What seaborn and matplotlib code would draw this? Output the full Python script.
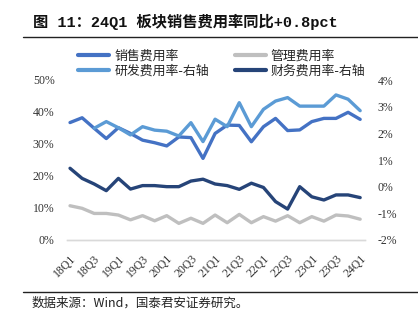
import numpy as np
import pandas as pd
import matplotlib
matplotlib.use("Agg")
import matplotlib.pyplot as plt
import seaborn as sns
from matplotlib.lines import Line2D

sns.set_theme(style="white")
plt.rcParams['font.family'] = ['Liberation Serif', 'Noto Sans CJK SC', 'DejaVu Sans']
plt.rcParams['axes.unicode_minus'] = False

quarters = ["18Q1","18Q2","18Q3","18Q4","19Q1","19Q2","19Q3","19Q4",
            "20Q1","20Q2","20Q3","20Q4","21Q1","21Q2","21Q3","21Q4",
            "22Q1","22Q2","22Q3","22Q4","23Q1","23Q2","23Q3","23Q4","24Q1"]
sales = [36.7, 38.2, 34.9, 31.7, 35.1, 33.3, 31.2, 30.4, 29.4, 32.2, 32.0, 25.5,
         33.3, 35.9, 35.8, 30.7, 35.4, 38.0, 34.2, 34.4, 37.0, 38.0, 38.0, 39.9, 37.7]
mgmt = [10.7, 9.9, 8.3, 8.3, 7.8, 6.3, 7.6, 6.0, 7.6, 5.2, 6.8, 5.2,
        7.8, 5.4, 8.0, 5.4, 7.3, 5.9, 7.6, 5.4, 7.3, 5.9, 7.8, 7.5, 6.5]
rnd = [np.nan, np.nan, 2.19, 2.44, 2.21, 1.94, 2.25, 2.12, 2.08, 1.90, 2.40, 1.69,
       2.53, 2.25, 3.15, 2.25, 2.90, 3.21, 3.34, 3.02, 3.02, 3.02, 3.44, 3.28, 2.85]
fin = [0.69, 0.31, 0.10, -0.15, 0.31, -0.09, 0.04, 0.04, 0.00, 0.00, 0.21, 0.28,
       0.10, 0.04, -0.10, 0.13, -0.03, -0.56, -0.84, 0.00, -0.38, -0.50, -0.31, -0.31, -0.41]
left_ticks = [0, 10, 20, 30, 40, 50]
left_labels = ["0%", "10%", "20%", "30%", "40%", "50%"]
right_ticks = [-2, -1, 0, 1, 2, 3, 4]
right_labels = ["-2%", "-1%", "0%", "1%", "2%", "3%", "4%"]
names = ["销售费用率", "管理费用率", "研发费用率-右轴", "财务费用率-右轴"]
colors = ["#4472C4", "#BFBFBF", "#5B9BD5", "#264478"]

df = pd.DataFrame({"x": np.arange(len(quarters)), "q": quarters,
                   "sales": sales, "mgmt": mgmt, "rnd": rnd, "fin": fin})

fig = plt.figure(figsize=(4.18, 3.28), dpi=100)
ax = fig.add_axes([67/418, 1-240/328, (365-67)/418, 160/328])
ax2 = ax.twinx()
lw = 2.4
sns.lineplot(data=df, x="x", y="sales", ax=ax, color=colors[0], lw=lw, zorder=3)
sns.lineplot(data=df, x="x", y="mgmt", ax=ax, color=colors[1], lw=lw, zorder=3)
sns.lineplot(data=df, x="x", y="rnd", ax=ax2, color=colors[2], lw=lw, zorder=3)
sns.lineplot(data=df, x="x", y="fin", ax=ax2, color=colors[3], lw=lw, zorder=3)

ax.set_xlim(-0.25, 24.4)
ax.set_ylim(0, 50)
ax2.set_ylim(-2, 4)
ax.set_yticks(left_ticks)
ax.set_yticklabels(left_labels, fontsize=8.5, color="#333333")
ax2.set_yticks(right_ticks)
ax2.set_yticklabels(right_labels, fontsize=8.5, color="#333333")
ax.set_xticks(df["x"][::2])
ax.set_xticklabels(quarters[::2], rotation=45, ha="right", va="top",
                   rotation_mode="anchor", fontsize=8.5, color="#333333")
ax.tick_params(axis="y", length=0, pad=9)
ax2.tick_params(axis="y", length=0, pad=9)
ax.tick_params(axis="x", length=0, pad=9)
ax.set_xlabel("")
ax.set_ylabel("")
ax2.set_ylabel("")
for a in (ax, ax2):
    for s in ["top", "left", "right"]:
        a.spines[s].set_visible(False)
    a.spines["bottom"].set_color("#D9D9D9")
    a.spines["bottom"].set_linewidth(1.0)
    a.grid(False)

handles = [Line2D([], [], color=colors[i], lw=3) for i in [0, 2, 1, 3]]
labels = [names[i] for i in [0, 2, 1, 3]]
fig.legend(handles, labels, ncol=2, loc="upper left",
           bbox_to_anchor=(78/418, 1-50/328), frameon=False,
           prop={"family": ["Noto Sans CJK SC"], "size": 9.3},
           handlelength=2.4, handletextpad=0.4, columnspacing=2.0,
           labelspacing=0.15, borderpad=0, borderaxespad=0)

fig.text(33/418, 1-22/328, "图 11：24Q1 板块销售费用率同比+0.8pct",
         fontsize=11, fontweight="bold", va="center", ha="left",
         family=["Liberation Mono", "Noto Sans CJK SC"], color="#111111")
fig.add_artist(Line2D([23/418, 1.0], [1-37/328, 1-37/328], color="#222222", lw=1.0))
fig.add_artist(Line2D([23/418, 1.0], [1-292/328, 1-292/328], color="#222222", lw=1.0))
fig.text(32/418, 1-303/328, "数据来源：Wind，国泰君安证券研究。", fontsize=9,
         va="center", ha="left", family=["Noto Sans CJK SC"], color="#222222")

fig.savefig("out.png", dpi=100)
